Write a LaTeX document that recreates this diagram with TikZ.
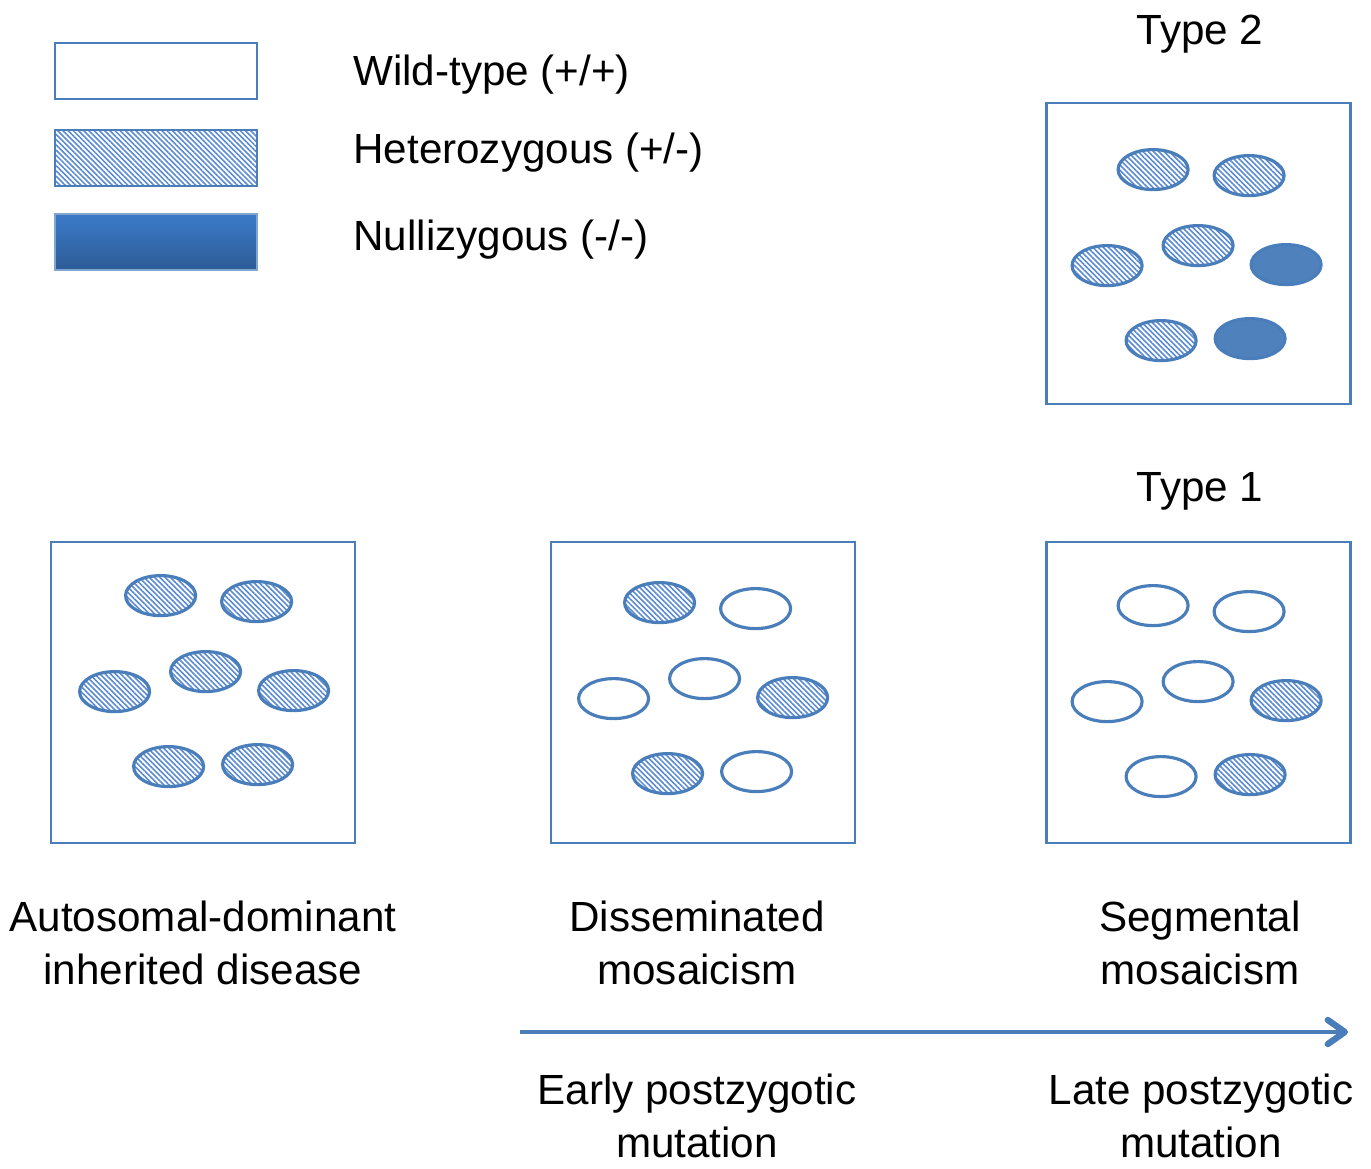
\documentclass[tikz,border=0pt]{standalone}
\usepackage{fontspec}
\setmainfont{Liberation Sans}
\usetikzlibrary{arrows.meta, positioning, shapes.geometric, calc, patterns.meta}
\definecolor{cline}{HTML}{4A7EBB}
\definecolor{chatch}{HTML}{5A8AD0}
\definecolor{cnull}{HTML}{4F81BD}
\definecolor{ctop}{HTML}{3C7BC9}
\definecolor{cbot}{HTML}{2C5B96}
\tikzset{
  every picture/.style={font=\fontsize{12}{14.8}\selectfont, line width=0.8pt},
  panel/.style={draw=cline, minimum width=3.04cm, minimum height=3.01cm, inner sep=0pt},
  key/.style={draw=cline, minimum width=2.02cm, minimum height=0.56cm, inner sep=0pt},
  hatched/.style={pattern={Lines[angle=-45, distance=1.05pt, line width=0.45pt]}, pattern color=chatch},
  cellbase/.style={ellipse, draw=cline, line width=0.9pt, minimum width=0.70cm, minimum height=0.40cm, inner sep=0pt},
  kindw/.style={fill=white},
  kindh/.style={hatched},
  kindn/.style={fill=cnull},
  cell/.style={cellbase, kind#1},
  caption/.style={align=center, anchor=base, inner sep=0pt},
  keytext/.style={anchor=base west, inner sep=0pt},
  timeline/.style={draw=cline, line width=1.3pt, -{Straight Barb[length=1.7mm, width=2.4mm, round, line width=1.8pt]}},
}
\begin{document}
\begin{tikzpicture}
  \useasboundingbox (0,0) rectangle (13.71,-11.69);
  % legend
  \node[key, fill=white] (wtkey) at (1.56,-0.71) {};
  \node[key, hatched] (hetkey) at (1.56,-1.58) {};
  \node[key, draw=cline!70, top color=ctop, bottom color=cbot] (nullkey) at (1.56,-2.42) {};
  \node[keytext] (wttext) at (3.52,-0.85) {Wild-type (+/+)};
  \node[keytext] (hettext) at (3.52,-1.63) {Heterozygous (+/-)};
  \node[keytext] (nulltext) at (3.52,-2.50) {Nullizygous (-/-)};
  % the four panels of cells
  \node[panel] (t2box) at (11.985,-2.535) {};
  \node[panel] (adbox) at (2.03,-6.925) {};
  \node[panel] (dmbox) at (7.03,-6.925) {};
  \node[panel] (smbox) at (11.985,-6.925) {};
  \node[caption] (t2text) at (12.00,-0.44) {Type 2};
  \node[caption] (t1text) at (12.00,-5.01) {Type 1};
  % w = wild-type, h = heterozygous, n = nullizygous; same seven spots in each panel
  \foreach \b/\dx/\dy/\kinds in {adbox/0.02/-0.05/{h,h,h,h,h,h,h}, dmbox/0.01/0.02/{h,w,w,w,h,h,w},
      smbox/-0.01/0.05/{w,w,w,w,h,w,h}, t2box/-0.01/0.08/{h,h,h,h,n,h,n}}
    \foreach \s [count=\k] in \kinds {
      \pgfmathsetmacro\x{{1.09,2.05,0.63,1.54,2.42,1.17,2.06}[\k-1]+\dx}
      \pgfmathsetmacro\y{{0.60,0.66,1.56,1.36,1.55,2.31,2.29}[\k-1]+\dy}
      \node[cell/.expanded=\s] (\b-\k) at ($(\b.north west)+(\x,-\y)$) {};
    }
  % captions: base anchor is the baseline of the last line
  \node[caption] (adtext) at (2.03,-9.84) {Autosomal-dominant\\inherited disease};
  \node[caption] (dmtext) at (6.97,-9.84) {Disseminated\\mosaicism};
  \node[caption] (smtext) at (12.00,-9.84) {Segmental\\mosaicism};
  % time of the mutation
  \coordinate (early) at (5.20,-10.32);
  \coordinate (late) at (13.48,-10.32);
  \draw[timeline] (early) -- (late);
  \node[caption] (earlytext) at (6.97,-11.57) {Early postzygotic\\mutation};
  \node[caption] (latetext) at (12.01,-11.57) {Late postzygotic\\mutation};
\end{tikzpicture}
\end{document}
